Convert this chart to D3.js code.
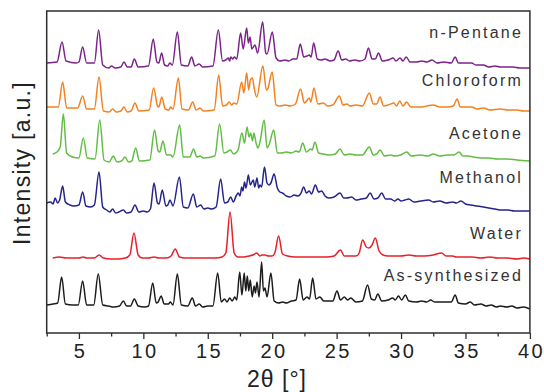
<!DOCTYPE html>
<html><head><meta charset="utf-8">
<script src="https://cdn.jsdelivr.net/npm/d3@7"></script>
<style>html,body{margin:0;padding:0;background:#fff;}svg{display:block;font-family:"Liberation Sans",Arial,sans-serif;}</style>
</head><body><svg id="c" width="544" height="392"></svg>
<script>
// Series labels (top to bottom) and colours
const seriesNames = ["n-Pentane","Chloroform","Acetone","Methanol","Water","As-synthesized"];
const seriesColors = ["#7b2389","#f4811f","#62bd45","#24248c","#e8202a","#1c1c1c"];
const xTicks = [5,10,15,20,25,30,35,40];
const xMinorTicks = [2.5,7.5,12.5,17.5,22.5,27.5,32.5,37.5];

// [2θ, stacked intensity (a.u.)]
const nPentane = [[2.5,270],[3.3,271],[3.69,291],[4.0,272],[4.8,270],[5.0,271],[5.29,286],[5.6,270],[6.2,270],[6.53,303],[6.85,268],[7.3,265],[7.54,267],[7.8,265],[8.25,266],[8.5,271],[8.75,266],[9.05,266],[9.3,274],[9.6,266],[10.4,267],[10.77,294],[11.05,271],[11.2,270],[11.42,280],[11.65,268],[11.9,267],[12.05,270],[12.25,268],[12.64,301],[12.95,268],[13.45,267],[13.75,276],[14.0,267],[14.34,269],[14.6,266],[15.4,267],[15.82,303],[16.15,272],[16.4,273],[16.6,275],[16.7,272],[16.78,276],[16.95,274],[17.06,276],[17.25,274],[17.55,300],[17.75,284],[18.02,305],[18.15,290],[18.28,296],[18.42,284],[18.66,288],[18.87,280],[19.26,311],[19.5,280],[19.6,279],[20.01,301],[20.3,275],[20.6,272],[21.0,273],[21.3,272],[21.6,274],[21.9,274],[22.18,289],[22.45,276],[22.7,277],[22.88,278],[23.02,276],[23.22,290],[23.5,274],[23.8,273],[24.1,274],[24.5,272],[24.8,273],[25.12,282],[25.4,273],[25.7,274],[26.0,272],[26.4,273],[26.8,272],[27.2,274],[27.47,285],[27.75,274],[28.0,274],[28.25,280],[28.55,272],[29.0,273],[29.4,275],[29.6,272],[29.92,275],[30.15,272],[30.4,276],[30.7,271],[31.2,271],[31.6,272],[32.0,271],[32.4,273],[32.8,270],[33.3,271],[33.9,270],[34.2,276],[34.45,270],[35.0,270],[35.48,270],[35.8,268],[36.4,268],[36.8,266],[37.3,267],[37.7,266],[38.2,266],[38.7,266],[39.2,265],[39.6,265],[40,265]];
const chloroform = [[2.5,226],[3.4,226],[3.74,251],[4.05,225],[4.9,225],[5.29,237],[5.6,224],[6.2,224],[6.56,256],[6.9,222],[7.35,221],[7.62,224],[7.9,221],[8.25,222],[8.5,226],[8.75,221],[9.05,222],[9.35,230],[9.65,222],[10.45,223],[10.8,245],[11.1,227],[11.2,226],[11.43,236],[11.7,224],[12.0,223],[12.1,226],[12.3,224],[12.72,255],[13.0,224],[13.5,223],[13.83,231],[14.1,223],[14.4,225],[14.65,222],[15.5,223],[15.85,258],[16.15,227],[16.45,228],[16.67,231],[16.85,228],[17.03,230],[17.25,229],[17.63,251],[17.8,240],[18.02,260],[18.18,243],[18.3,253],[18.47,255],[18.6,245],[18.8,236],[19.28,267],[19.55,243],[19.65,244],[20.0,261],[20.3,228],[20.6,227],[21.0,228],[21.4,227],[21.8,229],[22.2,244],[22.5,230],[22.88,235],[23.0,231],[23.24,245],[23.55,229],[23.97,230],[24.3,227],[24.7,228],[25.21,237],[25.5,228],[25.8,229],[26.04,227],[26.5,228],[27.0,227],[27.54,240],[27.85,229],[28.1,229],[28.37,236],[28.65,227],[29.0,228],[29.45,230],[29.65,227],[29.9,232],[30.15,227],[30.44,231],[30.75,226],[31.47,226],[32.0,227],[32.5,228],[33.0,226],[33.6,226],[34.05,227],[34.36,234],[34.6,226],[35.1,226],[35.48,226],[35.9,224],[36.4,225],[36.9,223],[37.7,224],[38.3,223],[39.0,223],[39.5,222],[40,222]];
const acetone = [[2.97,179],[3.3,181],[3.55,186],[3.79,219],[4.05,180],[4.5,176],[5.0,175],[5.34,195],[5.65,175],[6.25,174],[6.62,213],[6.95,173],[7.35,171],[7.67,177],[7.95,171],[8.3,172],[8.58,176],[8.85,171],[9.1,172],[9.4,185],[9.7,172],[10.5,173],[10.87,203],[11.15,182],[11.27,181],[11.52,192],[11.8,178],[12.12,178],[12.3,176],[12.82,208],[13.1,176],[13.6,176],[13.9,184],[14.15,176],[14.4,177],[14.65,175],[15.55,177],[15.92,209],[16.25,180],[16.5,181],[16.75,183],[17.0,179],[17.25,181],[17.35,183],[17.65,200],[17.85,190],[18.05,206],[18.2,196],[18.33,200],[18.47,192],[18.58,200],[18.75,190],[18.9,185],[19.05,191],[19.38,213],[19.6,185],[19.75,188],[20.12,203],[20.4,180],[20.7,180],[21.1,181],[21.5,180],[21.85,182],[22.1,181],[22.37,190],[22.65,181],[23.0,184],[23.1,183],[23.32,191],[23.6,180],[24.0,179],[24.4,178],[24.9,179],[25.26,184],[25.6,178],[26.0,179],[26.5,178],[27.0,178],[27.54,186],[27.85,178],[28.1,179],[28.38,183],[28.7,177],[29.2,178],[29.5,177],[29.97,178],[30.44,181],[30.8,177],[31.5,178],[32.1,177],[32.5,179],[33.0,177],[33.6,178],[34.1,178],[34.5,181],[34.8,177],[35.2,177],[35.6,176],[36.2,175],[36.8,175],[37.5,174],[38.2,174],[39.0,173],[40,172]];
const methanol = [[2.5,130],[2.8,131],[3.0,129],[3.15,135],[3.35,130],[3.5,133],[3.74,147],[3.95,131],[4.3,128],[4.6,127],[5.0,128],[5.29,141],[5.55,127],[5.9,126],[6.2,128],[6.56,161],[6.85,126],[7.15,123],[7.4,121],[7.62,124],[7.85,120],[8.1,121],[8.45,123],[8.7,120],[9.05,121],[9.35,128],[9.65,121],[10.0,122],[10.3,121],[10.55,124],[10.83,150],[11.1,130],[11.22,129],[11.47,143],[11.75,127],[11.9,128],[12.07,133],[12.3,127],[12.8,156],[13.1,126],[13.45,125],[13.88,139],[14.15,126],[14.45,128],[14.7,124],[15.0,125],[15.3,124],[15.65,126],[16.0,154],[16.3,130],[16.55,131],[16.78,136],[16.98,131],[17.2,137],[17.37,140],[17.5,137],[17.63,146],[17.73,142],[17.85,151],[17.97,145],[18.15,158],[18.3,148],[18.53,153],[18.65,146],[18.82,155],[18.95,145],[19.05,148],[19.18,146],[19.4,166],[19.6,150],[19.75,148],[19.9,150],[20.15,159],[20.4,145],[20.6,141],[20.8,140],[21.1,137],[21.4,136],[21.7,138],[22.0,137],[22.2,139],[22.45,146],[22.65,140],[22.88,142],[23.05,139],[23.35,148],[23.6,141],[23.84,142],[24.1,137],[24.4,135],[24.8,136],[25.27,140],[25.55,135],[25.8,135],[26.17,136],[26.5,133],[26.9,134],[27.3,135],[27.6,140],[27.9,134],[28.2,135],[28.5,140],[28.8,134],[29.2,134],[29.5,132],[29.76,134],[30.0,132],[30.3,133],[30.6,134],[31.0,131],[31.5,132],[32.15,133],[32.5,131],[33.0,132],[33.5,130],[34.0,131],[34.3,130],[34.65,132],[35.0,129],[35.4,128],[35.9,127],[36.4,126],[36.8,125],[37.3,124],[37.8,123],[38.3,123],[38.8,122],[39.3,122],[40,122]];
const water = [[2.97,75],[3.5,76],[4.0,75],[4.6,75],[5.0,75],[5.34,76],[5.6,75],[6.2,75],[6.56,78],[6.9,75],[7.5,74],[8.0,74],[8.6,75],[8.95,78],[9.27,100],[9.6,78],[9.9,75],[10.4,75],[10.83,76],[11.2,75],[11.8,75],[12.15,77],[12.48,84],[12.8,76],[13.3,75],[13.85,75],[14.4,75],[15.0,75],[15.6,75],[16.1,76],[16.4,80],[16.73,121],[17.05,80],[17.35,76],[17.8,76],[18.2,77],[18.5,78],[18.8,80],[19.05,77],[19.2,78],[19.44,78],[19.7,77],[20.0,77],[20.2,80],[20.5,97],[20.8,79],[21.2,77],[21.8,76],[22.4,76],[23.0,76],[23.6,76],[24.2,76],[24.8,77],[25.3,83],[25.6,77],[26.0,77],[26.5,77],[26.75,80],[27.02,93],[27.3,86],[27.5,85],[27.75,88],[28.0,95],[28.3,82],[28.6,78],[29.0,77],[29.5,77],[30.0,77],[30.6,78],[31.2,77],[31.8,77],[32.5,78],[33.15,80],[33.5,77],[34.0,77],[34.3,76],[34.8,76],[35.5,76],[36.2,75],[36.9,76],[37.5,75],[38.2,75],[39.0,74],[39.5,75],[40,74]];
const asSynthesized = [[2.5,28],[3.0,29],[3.35,30],[3.66,56],[3.95,29],[4.5,28],[4.95,28],[5.29,52],[5.6,28],[6.15,28],[6.5,59],[6.85,28],[7.3,27],[7.7,26],[8.15,27],[8.45,32],[8.7,27],[9.0,27],[9.3,34],[9.6,27],[10.1,26],[10.4,27],[10.73,50],[11.0,30],[11.15,31],[11.38,37],[11.62,29],[11.95,29],[12.1,31],[12.3,28],[12.64,59],[12.95,28],[13.45,27],[13.8,35],[14.05,27],[14.34,29],[14.6,26],[15.0,27],[15.4,27],[15.77,60],[16.05,31],[16.3,34],[16.5,31],[16.7,35],[16.9,32],[17.1,36],[17.25,33],[17.48,61],[17.65,38],[17.83,60],[17.95,42],[18.07,57],[18.18,42],[18.3,53],[18.45,36],[18.6,47],[18.7,40],[18.82,51],[18.98,36],[19.18,71],[19.32,42],[19.44,45],[19.6,36],[19.9,60],[20.15,32],[20.5,30],[20.8,31],[21.1,30],[21.5,32],[21.85,33],[22.13,54],[22.4,33],[22.7,36],[22.9,34],[23.14,55],[23.4,34],[23.7,36],[24.0,32],[24.3,32],[24.7,32],[25.03,42],[25.3,33],[25.6,36],[25.85,33],[26.1,35],[26.5,31],[27.0,32],[27.4,48],[27.7,34],[27.95,33],[28.2,39],[28.5,32],[29.0,33],[29.35,35],[29.55,33],[29.8,37],[30.05,33],[30.33,38],[30.6,32],[31.2,31],[31.6,32],[32.0,31],[32.3,33],[32.6,31],[33.2,31],[33.9,31],[34.2,38],[34.45,30],[35.0,29],[35.37,31],[35.7,28],[36.2,29],[36.6,27],[37.0,28],[37.4,26],[37.7,27],[38.2,26],[38.6,27],[39.0,25],[39.5,26],[40,24]];
// label anchor intensity (a.u.) for each series name
const labelLevels = [295, 247, 194, 150, 94, 52];

const seriesData = [nPentane, chloroform, acetone, methanol, water, asSynthesized];

const svg = d3.select("#c");
const m = {left: 46.7, right: 529.9, top: 11, bottom: 333};
const x = d3.scaleLinear().domain([2.5, 40]).range([m.left, m.right]);
const y = d3.scaleLinear().domain([0, 322]).range([m.bottom, m.top]);

const line = d3.line().x(d => x(d[0])).y(d => y(d[1])).curve(d3.curveMonotoneX);

svg.append("g").selectAll("path").data(seriesData).join("path")
  .attr("d", line).attr("fill", "none")
  .attr("stroke", (d, i) => seriesColors[i]).attr("stroke-width", 1.5)
  .attr("stroke-linejoin", "round");

// Frame
svg.append("rect").attr("x", m.left).attr("y", m.top)
  .attr("width", m.right - m.left).attr("height", m.bottom - m.top)
  .attr("fill", "none").attr("stroke", "#2e2e2e").attr("stroke-width", 1.5);

// X axis major
const ax = svg.append("g").attr("transform", `translate(0,${m.bottom})`)
  .call(d3.axisBottom(x).tickValues(xTicks).tickSize(6).tickFormat(d3.format("d")));
ax.select(".domain").remove();
ax.selectAll(".tick line").attr("stroke", "#2e2e2e").attr("stroke-width", 1.3);
ax.selectAll(".tick text").attr("y", 11).attr("dy", "0.71em")
  .attr("font-size", 20).attr("fill", "#222").style("letter-spacing", "2.4px")
  .attr("dx", 1.2);
// minor
const axm = svg.append("g").attr("transform", `translate(0,${m.bottom})`)
  .call(d3.axisBottom(x).tickValues(xMinorTicks).tickSize(3.5).tickFormat(""));
axm.select(".domain").remove();
axm.selectAll(".tick line").attr("stroke", "#2e2e2e").attr("stroke-width", 1.3);

// Axis titles
svg.append("text").attr("x", 277).attr("y", 386.5).attr("text-anchor", "middle")
  .attr("font-size", 23).attr("fill", "#222").style("letter-spacing", "1px")
  .text("2θ [°]");
svg.append("text").attr("transform", "translate(30,163) rotate(-90)")
  .attr("text-anchor", "middle").attr("font-size", 23).attr("fill", "#222")
  .style("letter-spacing", "1.3px").text("Intensity [a.u.]");

// Series labels
svg.append("g").selectAll("text").data(seriesNames).join("text")
  .attr("x", 523).attr("y", (d, i) => y(labelLevels[i]))
  .attr("text-anchor", "end").attr("font-size", 16).attr("fill", "#333")
  .style("letter-spacing", "2.2px").text(d => d);
</script></body></html>
